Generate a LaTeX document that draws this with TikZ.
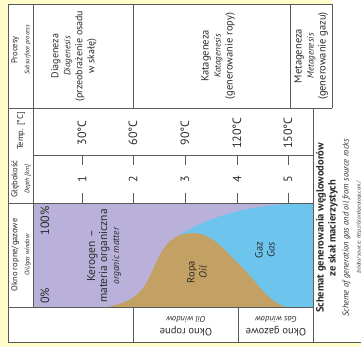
\documentclass[tikz,border=0pt]{standalone}
\usepackage{fontspec}
\setmainfont{PT Sans}
\definecolor{paper}{HTML}{FFFBCB}
\definecolor{kerogen}{HTML}{B9B1D9}
\definecolor{gas}{HTML}{6DC5EE}
\definecolor{oil}{HTML}{C3A064}
\definecolor{rule}{HTML}{5A5A5A}
\definecolor{ink}{HTML}{2B2B2B}
\newcommand{\fsz}[2]{\fontsize{#1}{#2}\selectfont}

\begin{document}
\begin{tikzpicture}[x=1pt,y=-1pt,
  tablerule/.style={rule, line width=0.7pt},
  uplabel/.style={rotate=90, align=center, inner sep=0pt, text=ink},
  downlabel/.style={rotate=180, align=center, inner sep=0pt, text=ink}]
  % Paper and white sheet
  \fill[paper] (0,0) rectangle (361,347);
  \fill[white] (8,4) rectangle (361,342);
  \fill[white] (332,0) rectangle (361,4);
  \useasboundingbox (0,0) rectangle (361,347);
  % Chart: kerogen, gas, oil
  \fill[kerogen] (33,203) rectangle (313,307);
  \fill[gas] (173,239) .. controls (215,212) and (255,205) .. (305,203)
    -- (313,203) -- (313,307) -- (173,307) -- cycle;
  \fill[oil] (108,307) .. controls (128,302) and (138,298) .. (148,280)
    .. controls (160,255) and (165,234) .. (192,233)
    .. controls (212,233) and (222,248) .. (240,265)
    .. controls (258,283) and (268,302) .. (286,307) -- cycle;
  % Table frame
  \draw[tablerule] (332,4) -- (8,4) -- (8,342) -- (361,342);
  \draw[tablerule] (332,4) -- (332,108);
  \draw[tablerule] (8,108) -- (332,108);
  \draw[tablerule] (33,155) -- (313,155);
  \draw[tablerule] (8,203) -- (313,203);
  \draw[tablerule] (8,307) -- (313,307);
  \draw[tablerule] (33,4) -- (33,307);
  \draw[tablerule] (133,4) -- (133,108);
  \draw[tablerule] (290,4) -- (290,108);
  \draw[tablerule] (313,108) -- (313,342);
  \draw[tablerule] (133,307) -- (133,342);
  \draw[tablerule] (238,307) -- (238,342);
  % Row headings
  \node[uplabel] (hproc) at (21,50) {{\fsz{8.5}{10}Procesy}\\{\fsz{6.5}{9}\itshape Subsurface process}};
  \node[uplabel] (htemp) at (21,131) {\fsz{8.5}{10}Temp. [°C]};
  \node[uplabel] (hdepth) at (21,179) {{\fsz{8.5}{10}Głębokość}\\{\fsz{6.5}{9}\itshape Depth [km]}};
  \node[uplabel] (hwin) at (21,255) {{\fsz{8.5}{10}Okno ropne/gazowe}\\{\fsz{6.5}{9}\itshape Oil/gas window}};
  % Processes
  \node[uplabel] (diag) at (74,56) {{\fsz{10}{12.5}Diageneza}\\{\fsz{9}{12.5}\itshape Diagenesis}\\{\fsz{10}{12.5}(przeobrażenie osadu}\\{\fsz{10}{12.5}w skałę)}};
  \node[uplabel] (kata) at (218,56) {{\fsz{10.5}{13}Katageneza}\\{\fsz{9}{13}\itshape Katagenesis}\\{\fsz{10.5}{13}(generowanie ropy)}};
  \node[uplabel] (meta) at (311,56) {{\fsz{10.5}{12.5}Metageneza}\\{\fsz{9}{12.5}\itshape Metagenesis}\\{\fsz{10.5}{12.5}(generowanie gazu)}};
  % Depth ticks and temperatures
  \foreach \x/\d/\t in {82/1/30,133/2/60,185/3/90,237/4/120,288/5/150} {
    \draw[tablerule] (\x,155) -- (\x,165);
    \draw[tablerule] (\x,193) -- (\x,203);
    \node[uplabel] (depth\d) at (\x,179) {\fsz{12}{14}\d};
    \node[uplabel] (temp\d) at (\x,133) {\fsz{12}{14}\t°C};
  }
  % Chart labels
  \node[uplabel, anchor=west] (pmin) at (45,304) {\fsz{12}{14}0\%};
  \node[uplabel, anchor=east] (pmax) at (45,206) {\fsz{12}{14}100\%};
  \node[uplabel] (kerogenlab) at (104,256) {{\fsz{11.5}{13.5}Kerogen –}\\{\fsz{11.5}{13.5}materia organiczna}\\{\fsz{9.5}{13.5}\itshape organic matter}};
  \node[uplabel] (oillab) at (197,272) {{\fsz{10.5}{10}Ropa}\\{\fsz{10.5}{10}\itshape Oil}};
  \node[uplabel] (gaslab) at (265,250) {{\fsz{10.5}{10}Gaz}\\{\fsz{10.5}{10}\itshape Gas}};
  % Windows
  \node[downlabel] (oilwin) at (186,326) {{\fsz{10.5}{14}Okno ropne}\\{\fsz{8.5}{14}\itshape Oil window}};
  \node[downlabel] (gaswin) at (276,326) {{\fsz{10.5}{14}Okno gazowe}\\{\fsz{8.5}{14}\itshape Gas window}};
  % Title
  \node[uplabel] (title) at (339,228) {{\fsz{10.5}{11.5}\bfseries Schemat generowania węglowodorów}\\{\fsz{10.5}{11.5}\bfseries ze skał macierzystych}\\[1pt]{\fsz{8.5}{11.5}\itshape Scheme of generation gas and oil from source rocks}\\{\fsz{5.5}{8}\itshape źródło/ source: http://islandgeology.com/}};
\end{tikzpicture}
\end{document}
